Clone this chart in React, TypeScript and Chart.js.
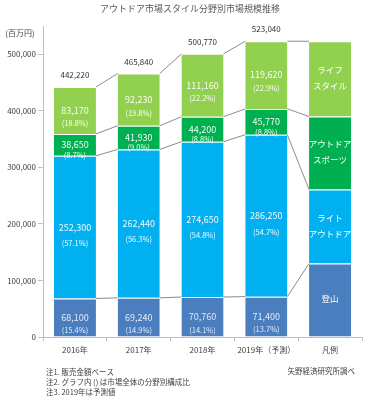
import React, { useEffect, useRef } from 'react';
import { Chart, registerables } from 'chart.js';

Chart.register(...registerables);

const FONT = "'Noto Sans CJK JP', 'Noto Sans', sans-serif";

const title = 'アウトドア市場スタイル分野別市場規模推移';
const unitLabel = '(百万円)';
const categories = ['2016年', '2017年', '2018年', '2019年（予測）', '凡例'];

const climbing = [68100, 69240, 70760, 71400];
const lightOutdoor = [252300, 262440, 274650, 286250];
const outdoorSports = [38650, 41930, 44200, 45770];
const lifestyle = [83170, 92230, 111160, 119620];
const totals = [442220, 465840, 500770, 523040];

const climbingPct = ['15.4%', '14.9%', '14.1%', '13.7%'];
const lightOutdoorPct = ['57.1%', '56.3%', '54.8%', '54.7%'];
const outdoorSportsPct = ['8.7%', '9.0%', '8.8%', '8.8%'];
const lifestylePct = ['18.8%', '19.8%', '22.2%', '22.9%'];

// heights of the segments in the "凡例" (legend) column
const legendColumn = [130000, 131000, 129000, 133040];
const legendNames = [['登山'], ['ライト', 'アウトドア'], ['アウトドア', 'スポーツ'], ['ライフ', 'スタイル']];

const yTickValues = [0, 100000, 200000, 300000, 400000, 500000];

const notes = ['注1. 販売金額ベース', '注2. グラフ内 () は市場全体の分野別構成比', '注3. 2019年は予測値'];
const sourceNote = '矢野経済研究所調べ';

const colors = ['#4a7ebf', '#00b0f0', '#00b050', '#92d050'];
const seriesNames = ['登山', 'ライトアウトドア', 'アウトドアスポーツ', 'ライフスタイル'];
const seriesValues = [climbing, lightOutdoor, outdoorSports, lifestyle];
const seriesPct = [climbingPct, lightOutdoorPct, outdoorSportsPct, lifestylePct];
const pctOffsets = [13, 16, 10, 13];

const fmt = (v: number) => v.toLocaleString('en-US');

const overlayPlugin = {
  id: 'overlay',
  afterDatasetsDraw(chart: any) {
    const ctx = chart.ctx as CanvasRenderingContext2D;
    const metas = [0, 1, 2, 3].map((i) => chart.getDatasetMeta(i));
    ctx.save();

    // connector lines between adjacent bars
    ctx.strokeStyle = '#6e6e6e';
    ctx.lineWidth = 0.8;
    metas.forEach((meta: any) => {
      for (let i = 0; i < meta.data.length - 1; i++) {
        const a = meta.data[i].getProps(['x', 'y', 'width'], true);
        const b = meta.data[i + 1].getProps(['x', 'y', 'width'], true);
        ctx.beginPath();
        ctx.moveTo(a.x + a.width / 2, a.y);
        ctx.lineTo(b.x - b.width / 2, b.y);
        ctx.stroke();
      }
    });

    // value + percentage labels inside segments
    ctx.textAlign = 'center';
    ctx.textBaseline = 'middle';
    metas.forEach((meta: any, d: number) => {
      for (let i = 0; i < seriesValues[d].length; i++) {
        const el = meta.data[i].getProps(['x', 'y', 'base'], true);
        const mid = (el.y + el.base) / 2;
        ctx.fillStyle = d === 0 ? 'rgba(235,240,250,0.95)' : 'rgba(255,255,255,0.95)';
        ctx.font = `9px ${FONT}`;
        ctx.fillText(fmt(seriesValues[d][i]), el.x, mid);
        ctx.font = `7.5px ${FONT}`;
        ctx.fillText(`(${seriesPct[d][i]})`, el.x, mid + pctOffsets[d]);
      }
      // legend column names
      const le = meta.data[4].getProps(['x', 'y', 'base'], true);
      const lmid = (le.y + le.base) / 2 - 1;
      const lines = legendNames[d];
      ctx.fillStyle = '#ffffff';
      ctx.font = `8.5px ${FONT}`;
      lines.forEach((t, k) => {
        ctx.fillText(t, le.x, lmid + (k - (lines.length - 1) / 2) * 16);
      });
    });

    // totals above bars
    ctx.fillStyle = '#333333';
    ctx.font = `8px ${FONT}`;
    const top = metas[3];
    for (let i = 0; i < totals.length; i++) {
      const el = top.data[i].getProps(['x', 'y'], true);
      ctx.fillText(fmt(totals[i]), el.x, el.y - 12);
    }

    // title, unit, notes
    ctx.fillStyle = '#595959';
    ctx.font = `9px ${FONT}`;
    ctx.fillText(title, 190, 9);
    ctx.fillStyle = '#404040';
    ctx.font = `8px ${FONT}`;
    ctx.fillText(unitLabel, 20, 33);
    ctx.textAlign = 'left';
    ctx.font = `7.5px ${FONT}`;
    notes.forEach((n, k) => ctx.fillText(n, 46, 372 + k * 10));
    ctx.textAlign = 'right';
    ctx.fillText(sourceNote, 355, 371);
    ctx.restore();
  },
};

export default function App() {
  const ref = useRef<HTMLCanvasElement | null>(null);
  useEffect(() => {
    if (!ref.current) return;
    const datasets = seriesValues.map((vals, d) => ({
      label: seriesNames[d],
      data: [...vals, legendColumn[d]],
      backgroundColor: colors[d],
      borderColor: 'rgba(255,255,255,0.55)',
      borderWidth: { top: 1, bottom: 0, left: 0, right: 0 },
      borderSkipped: false,
      barPercentage: 0.66,
      categoryPercentage: 1.0,
    }));
    const chart = new Chart(ref.current, {
      type: 'bar',
      data: { labels: categories, datasets },
      plugins: [overlayPlugin],
      options: {
        responsive: false,
        animation: false,
        events: [],
        layout: { padding: { top: 26, right: 7, left: 0, bottom: 0 } },
        plugins: {
          legend: { display: false },
          tooltip: { enabled: false },
          title: { display: false },
        },
        scales: {
          x: {
            stacked: true,
            grid: { display: true, drawOnChartArea: false, drawTicks: true, tickLength: 4, offset: true, color: '#bfbfbf' },
            border: { color: '#bfbfbf' },
            ticks: { font: { family: FONT, size: 8 }, color: '#404040', padding: 4, maxRotation: 0, autoSkip: false },
            afterFit: (s: any) => {
              s.height = 63;
            },
          },
          y: {
            stacked: true,
            min: 0,
            max: 550000,
            grid: { display: true, drawOnChartArea: false, drawTicks: true, tickLength: 5, color: '#bfbfbf' },
            border: { color: '#bfbfbf' },
            ticks: {
              font: { family: FONT, size: 8 },
              color: '#404040',
              padding: 2,
              callback: (v: any) => fmt(Number(v)),
            },
            afterBuildTicks: (s: any) => {
              s.ticks = yTickValues.map((v) => ({ value: v }));
            },
            afterFit: (s: any) => {
              s.width = 43;
            },
          },
        },
      },
    } as any);
    return () => chart.destroy();
  }, []);
  return (
    <div style={{ position: 'absolute', left: 0, top: 0, width: 369, height: 400, background: '#fff' }}>
      <canvas ref={ref} width={369} height={400} style={{ display: 'block', width: 369, height: 400 }} />
    </div>
  );
}
